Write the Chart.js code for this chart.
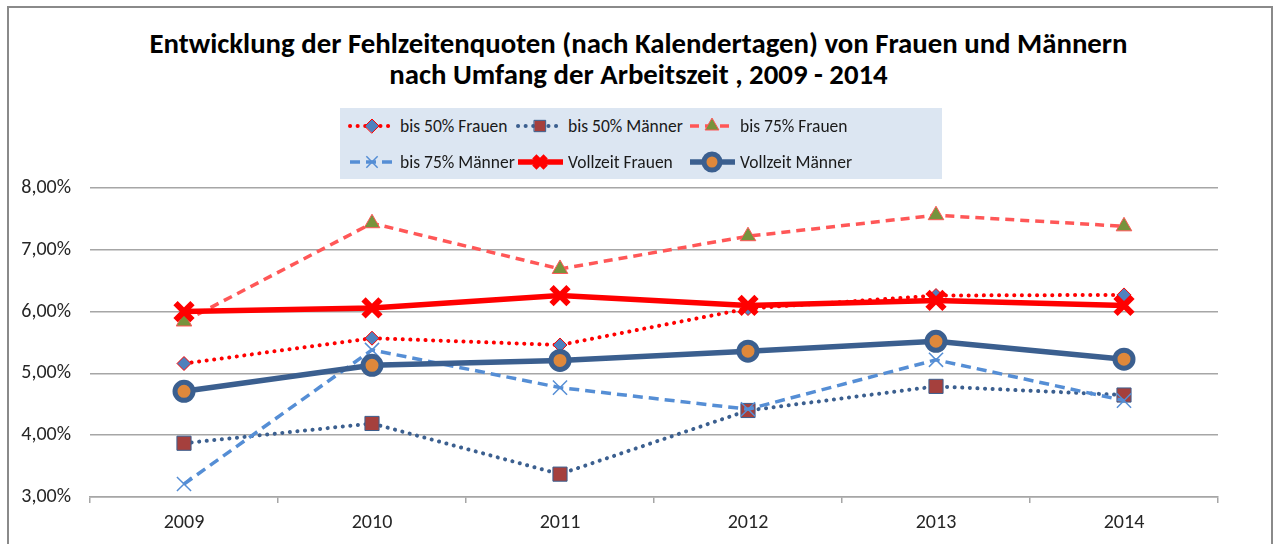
<!DOCTYPE html>
<html lang="de">
<head>
<meta charset="utf-8">
<script src="https://cdn.jsdelivr.net/npm/chart.js"></script>
<style>
  html, body { margin: 0; padding: 0; background: #fff; }
  body { width: 1277px; height: 544px; overflow: hidden; position: relative; font-family: Carlito, Lato, "Liberation Sans", sans-serif; }
  #rahmen { position: absolute; left: 7px; top: 6px; width: 1266px; height: 600px; border: 2px solid #8a8a8a; box-sizing: border-box; }
  #titel { position: absolute; left: 0; top: 28px; width: 1277px; text-align: center; font-weight: bold; font-size: 28.8px; line-height: 31px; color: #000; }
  #legende { position: absolute; left: 340px; top: 108px; width: 602px; height: 71px; background: #dce6f2;
             display: grid; grid-template-columns: 168px 172px auto; grid-auto-rows: 36px; align-items: center; padding: 0 0 0 7px; box-sizing: border-box; }
  .eintrag { display: flex; align-items: center; font-size: 17.5px; color: #1a1a1a; white-space: nowrap; }
  .eintrag canvas { margin-right: 3px; }
  #box { position: absolute; left: 0; top: 170px; width: 1277px; height: 374px; }
</style>
</head>
<body>
<div id="rahmen"></div>
<div id="titel">Entwicklung der Fehlzeitenquoten (nach Kalendertagen) von Frauen und Männern<br>nach Umfang der Arbeitszeit , 2009 - 2014</div>
<div id="legende"></div>
<div id="box"><canvas id="grafico"></canvas></div>

<script>
// Daten
const jahre = ['2009', '2010', '2011', '2012', '2013', '2014'];
const bis50Frauen = [5.16, 5.57, 5.46, 6.05, 6.26, 6.27];
const bis50Maenner = [3.87, 4.19, 3.37, 4.40, 4.79, 4.65];
const bis75Frauen = [5.84, 7.43, 6.69, 7.22, 7.56, 7.38];
const bis75Maenner = [3.21, 5.38, 4.77, 4.42, 5.22, 4.56];
const vollzeitFrauen = [6.00, 6.06, 6.26, 6.10, 6.18, 6.10];
const vollzeitMaenner = [4.71, 5.13, 5.21, 5.36, 5.52, 5.23];
const yTicks = [3, 4, 5, 6, 7, 8];

const serien = [
    { label: 'bis 50% Frauen', data: bis50Frauen, borderColor: '#ff0000', borderWidth: 4, borderDash: [0.1, 7.5], borderCapStyle: 'round',
      pointStyle: 'rectRot', pointRadius: 7, pointBackgroundColor: '#4f81bd', pointBorderColor: '#ff0000', pointBorderWidth: 1, order: 6 },
    { label: 'bis 50% Männer', data: bis50Maenner, borderColor: '#3b5f8f', borderWidth: 4, borderDash: [0.1, 7.5], borderCapStyle: 'round',
      pointStyle: 'rect', pointRadius: 10, pointBackgroundColor: '#a5403d', pointBorderColor: '#3b5f8f', pointBorderWidth: 1, order: 5 },
    { label: 'bis 75% Frauen', data: bis75Frauen, borderColor: '#ff5757', borderWidth: 3.5, borderDash: [9, 6], borderCapStyle: 'butt',
      pointStyle: 'triangle', pointRadius: 9, pointBackgroundColor: '#77933c', pointBorderColor: '#ff5757', pointBorderWidth: 1, order: 4 },
    { label: 'bis 75% Männer', data: bis75Maenner, borderColor: '#558ed5', borderWidth: 3.5, borderDash: [10, 6], borderCapStyle: 'butt',
      pointStyle: 'crossRot', pointRadius: 10, pointBackgroundColor: '#558ed5', pointBorderColor: '#558ed5', pointBorderWidth: 1.5, order: 3 },
    { label: 'Vollzeit Frauen', data: vollzeitFrauen, borderColor: '#ff0000', borderWidth: 5.5, borderDash: [], borderCapStyle: 'butt',
      pointStyle: 'crossRot', pointRadius: 12, pointBackgroundColor: '#ff0000', pointBorderColor: '#ff0000', pointBorderWidth: 6, order: 2 },
    { label: 'Vollzeit Männer', data: vollzeitMaenner, borderColor: '#3b5f8f', borderWidth: 5.5, borderDash: [], borderCapStyle: 'butt',
      pointStyle: 'circle', pointRadius: 9, pointBackgroundColor: '#df883b', pointBorderColor: '#3b5f8f', pointBorderWidth: 5, order: 1 }
];

function prozent(v) {
    return v.toFixed(2).replace('.', ',') + '%';
}

// Legende (HTML) mit kleinen Linienmustern
const legende = document.getElementById('legende');
serien.forEach(s => {
    const item = document.createElement('div');
    item.className = 'eintrag';
    const c = document.createElement('canvas');
    c.width = 50; c.height = 24;
    const g = c.getContext('2d');
    g.strokeStyle = s.borderColor;
    g.lineWidth = s.borderWidth;
    g.lineCap = s.borderCapStyle;
    g.setLineDash(s.borderDash);
    g.beginPath(); g.moveTo(3, 12); g.lineTo(48, 12); g.stroke();
    g.setLineDash([]);
    g.fillStyle = s.pointBackgroundColor;
    g.strokeStyle = s.pointBorderColor;
    g.lineWidth = s.pointBorderWidth;
    Chart.helpers.drawPoint(g, { pointStyle: s.pointStyle, radius: Math.min(s.pointRadius, 8), borderWidth: s.pointBorderWidth, rotation: 0 }, 25, 12);
    item.appendChild(c);
    const t = document.createElement('span');
    t.textContent = s.label;
    item.appendChild(t);
    legende.appendChild(item);
});

const ctx = document.getElementById('grafico');
const schrift = { family: 'Carlito, Lato, sans-serif', size: 20 };

new Chart(ctx, {
    type: 'line',
    data: {
        labels: jahre,
        datasets: serien.map(s => Object.assign({ fill: false, tension: 0, pointHoverRadius: s.pointRadius }, s))
    },
    options: {
        responsive: true,
        maintainAspectRatio: false,
        animation: false,
        layout: { padding: { left: 0, right: 59, top: 17, bottom: 0 } },
        plugins: {
            legend: { display: false },
            title: { display: false },
            tooltip: { enabled: false }
        },
        scales: {
            x: {
                offset: true,
                border: { display: true, color: '#a6a6a6', width: 1.5 },
                grid: {
                    offset: true,
                    drawOnChartArea: true,
                    tickLength: 6,
                    tickColor: '#a6a6a6',
                    color: c => c.index === jahre.length ? '#a6a6a6' : 'rgba(0,0,0,0)',
                    lineWidth: 1.5
                },
                ticks: { color: '#262626', font: schrift, padding: 8 },
                afterFit: s => { s.height = 47; s.paddingLeft = 0; s.paddingRight = 0; }
            },
            y: {
                min: 3,
                max: 8,
                afterBuildTicks: s => { s.ticks = yTicks.map(v => ({ value: v })); },
                border: { display: false },
                grid: { color: '#a6a6a6', lineWidth: 1.5, drawTicks: false },
                ticks: { color: '#262626', font: schrift, padding: 19, callback: v => prozent(v) },
                afterFit: s => { s.width = 90; s.paddingTop = 0; s.paddingBottom = 0; }
            }
        }
    }
});
</script>
</body>
</html>
